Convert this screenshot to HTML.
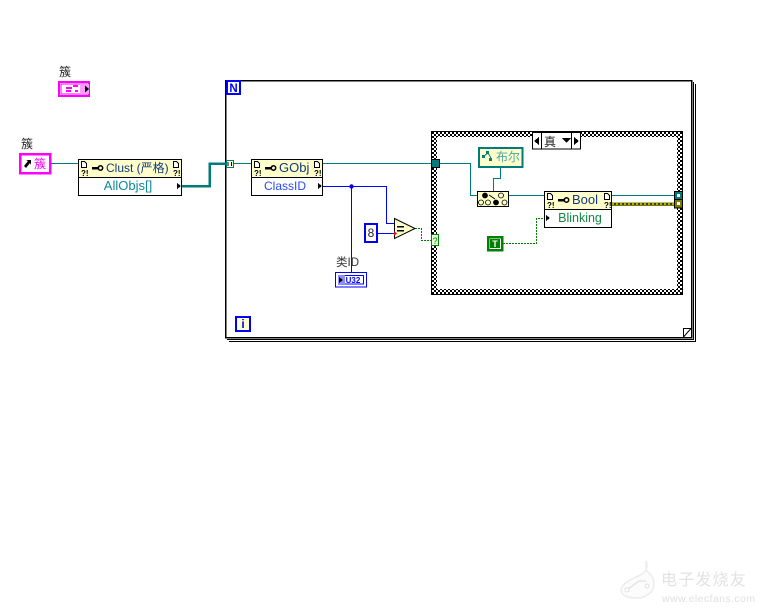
<!DOCTYPE html>
<html><head><meta charset="utf-8"><title>LabVIEW diagram</title>
<style>
html,body{margin:0;padding:0;background:#fff;width:768px;height:614px;overflow:hidden}
svg{display:block}
text{font-family:"Liberation Sans","Noto Sans CJK SC",sans-serif}
.s{shape-rendering:crispEdges}
</style></head><body>
<svg width="768" height="614" viewBox="0 0 768 614" xmlns="http://www.w3.org/2000/svg">
<defs>
<pattern id="chk" width="4" height="4" patternUnits="userSpaceOnUse"><rect width="4" height="4" fill="#fff"/><rect width="2" height="2" fill="#000"/><rect x="2" y="2" width="2" height="2" fill="#000"/></pattern>
<g id="hdr"><path d="M0.500 0.500h3l2 2v4h-5z" fill="#fff" stroke="#000" stroke-width="1" class="s"/></g>
<g id="err"><text x="0" y="0" font-size="8" font-weight="bold" fill="#000">?!</text></g>
<g id="key"><rect x="0" y="-1" width="7" height="2.500" fill="#000"/><circle cx="8.500" cy="0" r="2.200" fill="none" stroke="#000" stroke-width="1.500"/></g>
</defs>
<rect width="768" height="614" fill="#fff"/>

<!-- Watermark -->
<g>
<path d="M646 561c3 8-1 12-8 15-9 4-17 9-17 14 0 6 8 8 16 8 9 0 17-6 17-14 0-7-4-10-8-14z" fill="#fcfcfc" stroke="#ececec" stroke-width="1.500"/>
<path d="M628 589l11-8h7" fill="none" stroke="#e4e4e4" stroke-width="1.500"/>
<circle cx="627" cy="590" r="2" fill="#fff" stroke="#e0e0e0"/><circle cx="647" cy="586" r="2" fill="#fff" stroke="#e0e0e0"/>
<text x="661" y="585" font-size="16" letter-spacing="1.200" fill="#e2e2e2">电子发烧友</text>
<text x="662" y="602" font-size="10.500" letter-spacing=".4" fill="#e0e0e0">www.elecfans.com</text>
</g>

<!-- For loop -->
<g class="s" fill="none" stroke="#000" stroke-width="1">
<path d="M229 341.500H695.500V84"/>
<path d="M227 339.500H693.500V82"/>
<rect x="225.500" y="80.500" width="466" height="257" fill="#fff" stroke-width="1.500"/>
</g>
<path d="M683.500 328.500H691L683.500 337Z" fill="#fff" stroke="#000" stroke-width="1"/>
<g class="s">
<rect x="227" y="81" width="13" height="13" fill="#fff" stroke="#00f" stroke-width="2"/>
<rect x="236" y="317" width="14" height="14" fill="#ffffcc" stroke="#00f" stroke-width="2"/>
</g>
<text x="233.500" y="92" font-size="11.500" font-weight="bold" fill="#00f" text-anchor="middle">N</text>
<text x="243" y="328" font-size="12" font-weight="bold" fill="#00f" text-anchor="middle">i</text>

<!-- Case structure -->
<rect x="431" y="131" width="252" height="164" fill="#000"/>
<rect x="432" y="132" width="250" height="162" fill="url(#chk)"/>
<rect x="437" y="137" width="240" height="152" fill="#fff"/>
<g class="s">
<rect x="532.500" y="132.500" width="48" height="16.500" fill="#fff" stroke="#000"/>
<path d="M541.500 132.500V149M571.500 132.500V149" stroke="#000" fill="none"/>
<path d="M534 141l5-4v8zM579 141l-5-4v8zM562 138h9l-4.500 5z" fill="#000"/>
</g>
<text x="550" y="146" font-size="12" fill="#222" text-anchor="middle">真</text>

<!-- Wires -->
<g fill="none" class="s">
<path d="M51 163.500H78M233 163.500H251M323 163.500H432M440 163.500H470.500V195.500H477M509 195.500H544M612 195.500H674" stroke="#007b7b" stroke-width="1"/>
<path d="M500.500 168V178.500H493.500V191" stroke="#007b7b" stroke-width="1"/>
<path d="M182 186H209.500V163.500H226" stroke="#007b7b" stroke-width="2.500"/>
<path d="M323 186.500H386.500V223.500H394M351.500 186.500V272M378 233.500H394" stroke="#00f" stroke-width="1"/>
<path d="M612 204H674" stroke="#7a7a00" stroke-width="3.500"/>
<path d="M612 204H674" stroke="#000" stroke-width="1"/>
<path d="M612 204H674" stroke="#e8e800" stroke-width="1" stroke-dasharray="2 2"/>
<path d="M415 228.500H421.500V240.500H432M503 243.500H536.500V218.500H544" stroke="#008000" stroke-width="1" stroke-dasharray="2 1"/>
</g>
<circle cx="351.500" cy="186.500" r="2.200" fill="#00f"/>

<!-- Left labels & terminals -->
<text x="59" y="76" font-size="12" fill="#222">簇</text>
<rect x="59" y="82" width="30" height="14" fill="#fff" stroke="#ff00ff" stroke-width="2" class="s"/>
<rect x="61" y="84" width="26" height="10" fill="#fff" stroke="#ff00ff" class="s"/>
<rect x="80" y="84" width="9" height="10" fill="#ff9cff" class="s"/>
<path d="M85 85.500l4 3.500-4 3.500z" fill="#000"/>
<path d="M66 87h6v2h-6zM73 85h5v2h-5zM66 90h5v2h-5zM75 90h3v2h-3z" fill="#ff00ff"/>
<text x="21" y="148" font-size="12" fill="#222">簇</text>
<rect x="20" y="154" width="30" height="19" fill="#fff" stroke="#ff00ff" stroke-width="2.500" class="s"/>
<path d="M24 166l4-5-2-1h5v5l-1-2-4 5z" fill="#000"/>
<text x="34" y="168" font-size="12" fill="#ff00ff">簇</text>

<!-- Clust node -->
<g class="s">
<rect x="78.500" y="159.500" width="103" height="36" fill="#fff" stroke="#000"/>
<rect x="79" y="160" width="102" height="17" fill="#ffffcc"/>
<path d="M78.500 177.500H181.500" stroke="#000"/>
<path d="M177 183l4 3-4 3z" fill="#000"/>
</g>
<use href="#hdr" x="81" y="161"/><use href="#err" x="81" y="176"/>
<use href="#hdr" x="173" y="161"/><use href="#err" x="173" y="176"/>
<use href="#key" x="92" y="168"/>
<text x="106" y="172" font-size="12" fill="#123a7a">Clust (严格)</text>
<text x="128" y="190" font-size="13" fill="#0a8a9a" text-anchor="middle">AllObjs[]</text>

<!-- Tunnel -->
<rect x="226.500" y="160.500" width="7" height="7" fill="#ffffcc" stroke="#007b7b" class="s"/>
<path d="M228.500 162.500h-.5v3h.5M231 162.500h.5v3H231" stroke="#000" fill="none"/>

<!-- GObj node -->
<g class="s">
<rect x="251.500" y="159.500" width="71" height="36" fill="#fff" stroke="#000"/>
<rect x="252" y="160" width="70" height="17" fill="#ffffcc"/>
<path d="M251.500 177.500H322.500" stroke="#000"/>
<path d="M318 183l4 3-4 3z" fill="#000"/>
</g>
<use href="#hdr" x="254" y="161"/><use href="#err" x="254" y="176"/>
<use href="#hdr" x="314" y="161"/><use href="#err" x="314" y="176"/>
<use href="#key" x="265" y="168"/>
<text x="279" y="172" font-size="13" fill="#123a7a">GObj</text>
<text x="285" y="190" font-size="12" fill="#2a4af0" text-anchor="middle">ClassID</text>

<!-- Constant 8 -->
<rect x="365" y="224" width="12" height="18" fill="#fff" stroke="#00f" stroke-width="2" class="s"/>
<text x="371" y="237" font-size="12" fill="#223" text-anchor="middle">8</text>

<!-- Equal -->
<path d="M394.500 218.500L415 228.500L394.500 238.500Z" fill="#ffffcc" stroke="#000"/>
<path d="M397 226h7v1.500h-7zM397 230h7v1.500h-7z" fill="#000"/>
<path d="M394 231l3 2.500-3 2.500z" fill="#f00"/>

<!-- Selector tunnel -->
<rect x="431.500" y="234.500" width="7" height="11" fill="#e8ffd8" stroke="#008000" class="s"/>
<text x="435" y="244" font-size="9" fill="#008000" text-anchor="middle">?</text>
<rect x="431.500" y="159.500" width="8" height="8" fill="#007b7b" stroke="#000" class="s"/>

<!-- U32 -->
<text x="336" y="266" font-size="11.500" fill="#333">类ID</text>
<g class="s">
<rect x="335.500" y="272.500" width="31" height="14.500" fill="#fff" stroke="#00f"/>
<rect x="338.500" y="275.500" width="25" height="8.500" fill="#fff" stroke="#00f"/>
<rect x="338" y="275" width="7" height="10" fill="#8c8cff"/>
<path d="M339 277l4 3-4 3z" fill="#000"/>
</g>
<text x="353" y="283" font-size="8" font-weight="bold" fill="#00f" text-anchor="middle">U32</text>

<!-- Class constant -->
<rect x="479" y="148" width="43.500" height="19" fill="#ffffcc" stroke="#007b7b" stroke-width="2" class="s"/>
<path d="M484 156l4-3 3 5" stroke="#007b7b" fill="none"/>
<path d="M482 155h3v3h-3zM486 151h3v3h-3zM489 158h3v3h-3z" fill="#007b7b"/>
<text x="496" y="161" font-size="12" fill="#4aa8a8">布尔</text>

<!-- Node -->
<rect x="477.500" y="191.500" width="31" height="15" fill="#ffffcc" stroke="#000" class="s"/>
<g fill="#ffffcc" stroke="#000" stroke-width=".8">
<circle cx="485" cy="195.500" r="2.500" fill="#000"/><circle cx="501" cy="195.500" r="2.500"/>
<circle cx="481" cy="202.500" r="2.500"/><circle cx="488" cy="202.500" r="2.500"/><circle cx="496" cy="202.500" r="2.500" fill="#000"/><circle cx="504.500" cy="202.500" r="2.500"/>
</g>
<path d="M489 195l6 4" stroke="#000"/>

<!-- T constant -->
<rect x="488" y="237" width="14" height="13" fill="#fff" stroke="#008000" stroke-width="2.500" class="s"/>
<rect x="490" y="239" width="10" height="9" fill="#008000" class="s"/>
<text x="495" y="247" font-size="9" font-weight="bold" fill="#fff" text-anchor="middle">T</text>

<!-- Bool node -->
<g class="s">
<rect x="544.500" y="191.500" width="67" height="36" fill="#fff" stroke="#000"/>
<rect x="545" y="192" width="66" height="17" fill="#ffffcc"/>
<path d="M544.500 209.500H611.500" stroke="#000"/>
<path d="M546 215l4 3-4 3z" fill="#000"/>
</g>
<use href="#hdr" x="547" y="193"/><use href="#err" x="547" y="208"/>
<use href="#hdr" x="604" y="193"/><use href="#err" x="604" y="208"/>
<use href="#key" x="558" y="200"/>
<text x="572" y="204" font-size="13" fill="#123a7a">Bool</text>
<text x="580" y="222" font-size="12.500" fill="#118844" text-anchor="middle">Blinking</text>

<!-- Right tunnels -->
<g class="s">
<rect x="674.500" y="191.500" width="8" height="8" fill="#007b7b" stroke="#000"/>
<rect x="677" y="194" width="3" height="3" fill="#fff"/>
<rect x="674.500" y="199.500" width="8" height="8.500" fill="#7a7a00" stroke="#000"/>
<rect x="677" y="202" width="3" height="3" fill="#fff"/>
</g>
</svg>
</body></html>
